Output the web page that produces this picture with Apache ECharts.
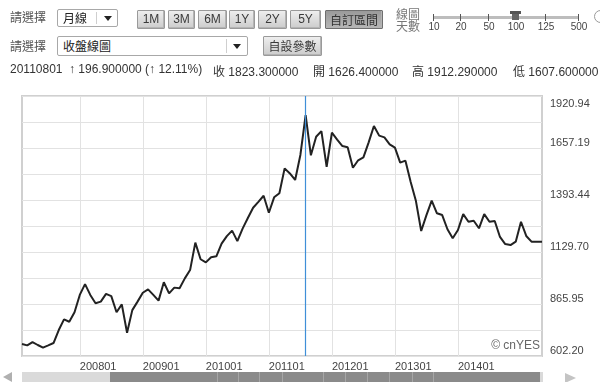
<!DOCTYPE html>
<html><head><meta charset="utf-8">
<script src="https://cdn.jsdelivr.net/npm/echarts@6/dist/echarts.min.js"></script>
<style>
html,body{margin:0;padding:0;width:600px;height:382px;overflow:hidden;background:#fff;}
#chart{position:absolute;left:0;top:0;width:600px;height:382px;}
.ui{position:absolute;z-index:2;font-family:"Liberation Sans","Noto Sans CJK TC",sans-serif;font-size:12px;color:#333;white-space:nowrap;}
.cjk{font-family:"Noto Sans CJK TC",sans-serif;}
.lbl{color:#555;font-size:12px;line-height:14px;}
.sel{border:1px solid #a8a8a8;border-radius:2px;background:#fff;box-sizing:border-box;}
.sel .t{position:absolute;left:5px;top:0px;font-size:12px;line-height:16px;color:#222;font-family:"Noto Sans CJK TC",sans-serif;}
.sel .d{position:absolute;top:2px;bottom:2px;width:1px;background:#cfcfcf;}
.sel .a{position:absolute;width:0;height:0;border-left:4px solid transparent;border-right:4px solid transparent;border-top:5px solid #222;}
.btn{box-sizing:border-box;border:1px solid #9a9a9a;border-radius:1px;background:linear-gradient(#eeeeee,#cccccc);text-align:center;color:#3a3a3a;font-size:12px;line-height:17px;box-shadow:inset -1px -1px 0 #b4b4b4;}
.btn.on{background:linear-gradient(#9a9a9a,#b6b6b6);border-color:#6f6f6f;color:#333;}
.tk{position:absolute;top:14px;width:1px;height:7px;background:#555;}
.tl{position:absolute;top:21px;font-size:10px;color:#444;transform:translateX(-50%);}
.seg{position:absolute;top:0;width:1px;height:10px;background:#a6a6a6;}
</style></head>
<body>
<div id="chart"></div>

<!-- header row 1 -->
<div class="ui lbl cjk" style="left:10px;top:10px;">請選擇</div>
<div class="ui sel" style="left:57px;top:9px;width:61px;height:18px;">
  <div class="t">月線</div><div class="d" style="left:38px"></div><div class="a" style="left:46px;top:6px"></div>
</div>
<div class="ui btn" style="left:137px;top:10px;width:28px;height:19px;">1M</div>
<div class="ui btn" style="left:168px;top:10px;width:27px;height:19px;">3M</div>
<div class="ui btn" style="left:198px;top:10px;width:29px;height:19px;">6M</div>
<div class="ui btn" style="left:229px;top:10px;width:26px;height:19px;">1Y</div>
<div class="ui btn" style="left:258px;top:10px;width:29px;height:19px;">2Y</div>
<div class="ui btn" style="left:290px;top:10px;width:31px;height:19px;">5Y</div>
<div class="ui btn on cjk" style="left:325px;top:10px;width:58px;height:19px;">自訂區間</div>
<div class="ui cjk" style="left:396px;top:8px;font-size:12px;line-height:12px;color:#777;">線圖<br>天數</div>
<div class="ui" style="left:0;top:0;width:600px;height:34px;">
  <div style="position:absolute;left:433px;top:16px;width:146px;height:3px;background:#bdbdbd;"></div>
  <div class="tk" style="left:433px"></div><div class="tk" style="left:460px"></div>
  <div class="tk" style="left:488px"></div><div class="tk" style="left:545px"></div>
  <div class="tk" style="left:578px"></div>
  <div style="position:absolute;left:510px;top:11px;width:11px;height:3px;background:#555;"></div>
  <div style="position:absolute;left:512px;top:14px;width:7px;height:6px;background:#666;"></div>
  <div class="tl" style="left:434px">10</div><div class="tl" style="left:461px">20</div>
  <div class="tl" style="left:489px">50</div><div class="tl" style="left:516px">100</div>
  <div class="tl" style="left:546px">125</div><div class="tl" style="left:579px">500</div>
  <div style="position:absolute;left:594px;top:10px;width:11px;height:11px;border:1px solid #9a9a9a;border-radius:50%;"></div>
</div>

<!-- header row 2 -->
<div class="ui lbl cjk" style="left:10px;top:39px;">請選擇</div>
<div class="ui sel" style="left:57px;top:36px;width:191px;height:20px;">
  <div class="t" style="top:1px">收盤線圖</div><div class="d" style="left:168px"></div><div class="a" style="left:175px;top:7px"></div>
</div>
<div class="ui btn cjk" style="left:263px;top:36px;width:59px;height:20px;line-height:18px;">自設參數</div>

<!-- header row 3 -->
<div class="ui" style="left:10px;top:62px;">20110801</div>
<div class="ui" style="left:69px;top:62px;">↑ 196.900000 (↑ 12.11%)</div>
<div class="ui" style="left:213px;top:62px;"><span class="cjk">收</span> 1823.300000</div>
<div class="ui" style="left:313px;top:62px;"><span class="cjk">開</span> 1626.400000</div>
<div class="ui" style="left:412px;top:62px;"><span class="cjk">高</span> 1912.290000</div>
<div class="ui" style="left:513px;top:62px;"><span class="cjk">低</span> 1607.600000</div>

<!-- bottom scrollbar -->
<div class="ui" style="left:0;top:372px;width:600px;height:10px;">
  <div style="position:absolute;left:3px;top:0;width:0;height:0;border-top:5px solid transparent;border-bottom:5px solid transparent;border-right:9px solid #b0b0b0;"></div>
  <div style="position:absolute;left:22px;top:0;width:88px;height:10px;background:#dadada;"></div>
  <div style="position:absolute;left:110px;top:0;width:430px;height:10px;background:#8a8a8a;"></div>
  <div class="seg" style="left:217px"></div><div class="seg" style="left:238px"></div>
  <div class="seg" style="left:259px"></div><div class="seg" style="left:282px"></div>
  <div class="seg" style="left:323px"></div><div class="seg" style="left:345px"></div>
  <div class="seg" style="left:367px"></div><div class="seg" style="left:389px"></div>
  <div class="seg" style="left:412px"></div><div class="seg" style="left:433px"></div>
  <div style="position:absolute;left:540px;top:0;width:3px;height:10px;background:#dadada;"></div>
  <div style="position:absolute;left:565px;top:1px;width:0;height:0;border-top:5px solid transparent;border-bottom:5px solid transparent;border-left:11px solid #c4c4c4;"></div>
</div>

<script>
const months = [
 '200702','200703','200704','200705','200706','200707','200708','200709','200710','200711','200712',
 '200801','200802','200803','200804','200805','200806','200807','200808','200809','200810','200811','200812',
 '200901','200902','200903','200904','200905','200906','200907','200908','200909','200910','200911','200912',
 '201001','201002','201003','201004','201005','201006','201007','201008','201009','201010','201011','201012',
 '201101','201102','201103','201104','201105','201106','201107','201108','201109','201110','201111','201112',
 '201201','201202','201203','201204','201205','201206','201207','201208','201209','201210','201211','201212',
 '201301','201302','201303','201304','201305','201306','201307','201308','201309','201310','201311','201312',
 '201401','201402','201403','201404','201405','201406','201407','201408','201409','201410','201411','201412',
 '201501','201502','201503','201504','201505'
];
const closes = [
 663, 656, 673, 658, 645, 656, 668, 734, 788, 776, 824,
 912, 967, 912, 870, 878, 917, 906, 824, 864, 720, 835, 878,
 923, 940, 912, 883, 976, 920, 949, 946, 996, 1038, 1177, 1093,
 1077, 1103, 1108, 1172, 1210, 1238, 1185, 1248, 1302, 1354, 1384, 1415,
 1329, 1407, 1428, 1554, 1528, 1495, 1622, 1823.3, 1620, 1714, 1743, 1562,
 1735, 1700, 1667, 1661, 1557, 1595, 1610, 1686, 1769, 1720, 1711, 1676,
 1659, 1583, 1593, 1485, 1388, 1236, 1317, 1390, 1326, 1317, 1245, 1199,
 1241, 1322, 1283, 1288, 1250, 1322, 1283, 1287, 1206, 1170, 1165, 1182,
 1283, 1211, 1182, 1182, 1182
];
const xTickLabels = ['200801','200901','201001','201101','201201','201301','201401'];
const yTickLabels = ['602.20','865.95','1129.70','1393.44','1657.19','1920.94'];
const yMin = 602.20, yMax = 1920.94;
const markMonth = '201108';

const step = (yMax - yMin) / 10;
const chart = echarts.init(document.getElementById('chart'));
const isTick = (i, v) => xTickLabels.indexOf(String(v)) >= 0;
const fnt = {fontSize: 11, fontFamily: 'Liberation Sans', color: '#444'};
chart.setOption({
  animation: false,
  grid: {left: 22, right: 58, top: 96, bottom: 26, show: true, borderColor: '#d0d0d0', borderWidth: 2},
  xAxis: {
    type: 'category', data: months, boundaryGap: false,
    axisLine: {show: false}, axisTick: {show: false},
    axisLabel: Object.assign({interval: isTick, align: 'left', margin: 5}, fnt),
    splitLine: {show: true, interval: isTick, lineStyle: {color: '#e2e2e2', width: 1}}
  },
  yAxis: {
    type: 'value', position: 'right', min: yMin, max: yMax, interval: step,
    axisLine: {show: false}, axisTick: {show: false},
    splitLine: {show: true, lineStyle: {color: '#e2e2e2', width: 1}},
    axisLabel: Object.assign({
      margin: 8,
      formatter: function (v) {
        const k = Math.round((v - yMin) / step);
        if (k % 2) return '';
        const t = yTickLabels[k / 2];
        return k === 10 ? '{t|' + t + '}' : '{a|' + t + '}';
      },
      rich: {
        a: Object.assign({padding: [0, 0, 10, 0]}, fnt),
        t: Object.assign({padding: [16, 0, 0, 0]}, fnt)
      }
    }, fnt)
  },
  series: [{
    type: 'line', data: closes, symbol: 'none', showSymbol: false,
    lineStyle: {color: '#222222', width: 2},
    markLine: {
      silent: true, symbol: 'none', label: {show: false},
      lineStyle: {color: '#3f8fd8', width: 1.2, type: 'solid', opacity: 1},
      emphasis: {disabled: true},
      data: [{xAxis: markMonth}]
    }
  }],
  graphic: [{
    type: 'text', right: 60, top: 340,
    style: {text: '© cnYES', font: '12px "Liberation Sans"', fill: '#666'}
  }]
});
</script>
</body></html>
